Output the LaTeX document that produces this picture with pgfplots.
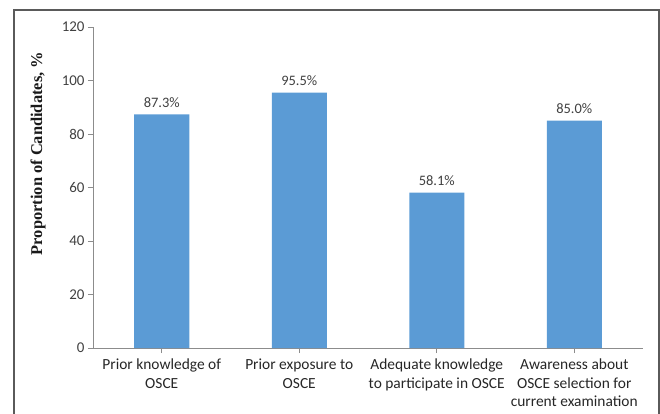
\documentclass[border=0pt]{standalone}
\usepackage{pgfplots}
\pgfplotsset{compat=1.18}
\usepackage{fontspec}
\setmainfont{Carlito}
\newfontfamily\ylabfont{Liberation Serif}
\definecolor{barblue}{HTML}{5B9BD5}
\definecolor{axgray}{HTML}{8C8C8C}
\definecolor{txt}{HTML}{404040}
\definecolor{framec}{HTML}{5A5A5A}
\pgfplotsset{/pgf/number format/assume math mode=true}
\begin{document}
\begin{tikzpicture}
\path[use as bounding box] (0bp,0bp) rectangle (660bp,-414bp);
\draw[color=framec, line width=1.3bp] (14bp,-414bp) -- (14bp,-10bp) -- (659bp,-10bp) -- (659bp,-414bp);
\node[rotate=90, font=\ylabfont\bfseries\fontsize{16.5}{18}\selectfont, text=black!90] at (38bp,-153.5bp) {Proportion of Candidates, \%};
\begin{axis}[
  at={(93bp,-348bp)}, anchor=south west,
  scale only axis, width=550bp, height=321bp,
  xmin=-0.5, xmax=3.5, ymin=0, ymax=120,
  ytick={0,20,...,120},
  xtick=data,
  xticklabels={{Prior knowledge of\\OSCE},{Prior exposure to\\OSCE},{Adequate knowledge\\to participate in OSCE},{Awareness about\\OSCE selection for\\current examination}},
  axis x line*=bottom, axis y line*=left,
  axis line style={draw=axgray, line width=1bp, -},
  tick style={draw=axgray, line width=0.8bp},
  tick align=outside, major tick length=5bp,
  yticklabel style={font=\fontsize{15}{17}\selectfont, text=txt},
  xticklabel style={font=\fontsize{15.5}{18.3}\selectfont, align=center, text=black!85, yshift=-5bp, inner sep=1bp},
  ybar, bar width=55bp,
  nodes near coords={\pgfmathprintnumber[fixed,fixed zerofill,precision=1]{\pgfplotspointmeta}\%},
  nodes near coords style={font=\fontsize{14.5}{16}\selectfont, text=txt, yshift=3bp},
]
\addplot[fill=barblue, draw=none] coordinates {(0,87.3) (1,95.5) (2,58.1) (3,85.0)};
\end{axis}
\end{tikzpicture}
\end{document}
